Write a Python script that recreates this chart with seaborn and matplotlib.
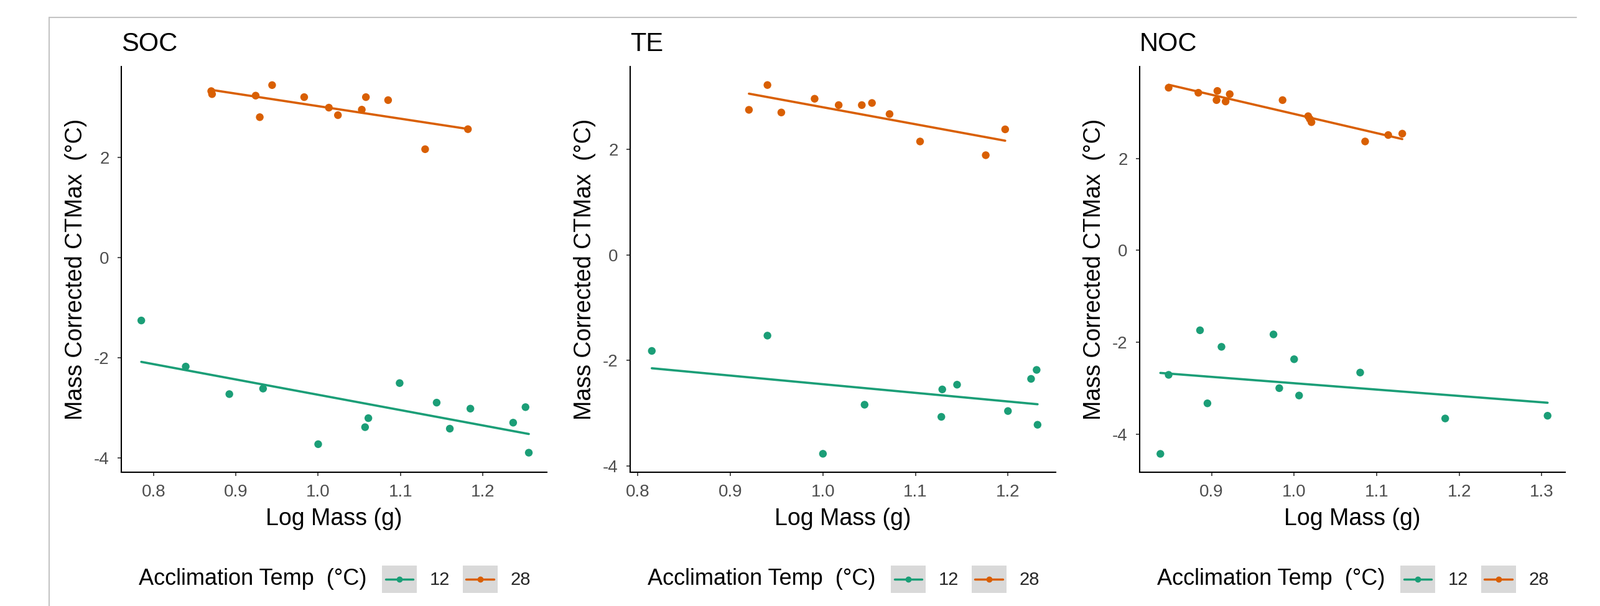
import numpy as np
import pandas as pd
import matplotlib
matplotlib.use("Agg")
import matplotlib.pyplot as plt
import seaborn as sns
from matplotlib.lines import Line2D
from matplotlib.patches import Rectangle
from matplotlib.legend_handler import HandlerBase

# ---------------- data ----------------
panels = ["SOC", "TE", "NOC"]
temps = ["12", "28"]
colors = {"12": "#1B9E77", "28": "#D95F02"}

SOC_12_x = [0.785, 0.839, 0.892, 0.933, 1.000, 1.057, 1.061, 1.099, 1.144, 1.160, 1.185, 1.237, 1.252, 1.256]
SOC_12_y = [-1.25, -2.17, -2.72, -2.61, -3.72, -3.38, -3.20, -2.50, -2.89, -3.41, -3.01, -3.29, -2.98, -3.89]
SOC_28_x = [0.870, 0.871, 0.924, 0.929, 0.944, 0.983, 1.013, 1.024, 1.053, 1.058, 1.085, 1.130, 1.182]
SOC_28_y = [3.33, 3.27, 3.24, 2.81, 3.45, 3.21, 3.00, 2.85, 2.96, 3.21, 3.15, 2.17, 2.57]

TE_12_x = [0.815, 0.940, 1.000, 1.045, 1.128, 1.129, 1.145, 1.200, 1.225, 1.231, 1.232]
TE_12_y = [-1.82, -1.53, -3.77, -2.84, -3.07, -2.55, -2.46, -2.96, -2.35, -2.18, -3.22]
TE_28_x = [0.920, 0.940, 0.955, 0.991, 1.017, 1.042, 1.053, 1.072, 1.105, 1.176, 1.197]
TE_28_y = [2.75, 3.22, 2.70, 2.96, 2.84, 2.84, 2.88, 2.67, 2.15, 1.89, 2.38]

NOC_12_x = [0.838, 0.848, 0.886, 0.895, 0.912, 0.975, 0.982, 1.000, 1.006, 1.080, 1.183, 1.307]
NOC_12_y = [-4.43, -2.71, -1.74, -3.33, -2.10, -1.83, -3.00, -2.37, -3.16, -2.66, -3.66, -3.60]
NOC_28_x = [0.848, 0.884, 0.907, 0.906, 0.917, 0.922, 0.986, 1.017, 1.021, 1.019, 1.086, 1.114, 1.131]
NOC_28_y = [3.54, 3.43, 3.47, 3.27, 3.24, 3.40, 3.27, 2.92, 2.79, 2.86, 2.37, 2.51, 2.54]

series = {
    "SOC": {"12": (SOC_12_x, SOC_12_y), "28": (SOC_28_x, SOC_28_y)},
    "TE": {"12": (TE_12_x, TE_12_y), "28": (TE_28_x, TE_28_y)},
    "NOC": {"12": (NOC_12_x, NOC_12_y), "28": (NOC_28_x, NOC_28_y)},
}

x_ticks = {"SOC": [0.8, 0.9, 1.0, 1.1, 1.2], "TE": [0.8, 0.9, 1.0, 1.1, 1.2], "NOC": [0.9, 1.0, 1.1, 1.2, 1.3]}
y_ticks = [-4, -2, 0, 2]
x_lims = {"SOC": (0.7607, 1.2779), "TE": (0.7916, 1.2516), "NOC": (0.8129, 1.3283)}
y_lims = {"SOC": (-4.28, 3.82), "TE": (-4.12, 3.57), "NOC": (-4.83, 4.00)}

xlabel = "Log Mass (g)"
ylabel = "Mass Corrected CTMax  (\u00b0C)"
legend_title = "Acclimation Temp  (\u00b0C)"

# ---------------- style ----------------
sns.set_style("ticks")
plt.rcParams["font.family"] = ["Liberation Sans", "DejaVu Sans"]

W, H = 2572, 974
fig = plt.figure(figsize=(W / 100, H / 100), dpi=100)
fig.patch.set_facecolor("white")

ax_left_px = [195, 1013, 1832]
ax_w_px = 684
ax_top_px, ax_bot_px = 107, 759


class KeyHandler(HandlerBase):
    def create_artists(self, legend, orig_handle, xdescent, ydescent, width, height, fontsize, trans):
        c = orig_handle.get_color()
        r = Rectangle((-xdescent, -ydescent), width, height, facecolor="#D9D9D9",
                      edgecolor="none", transform=trans)
        yc = -ydescent + height / 2
        ln = Line2D([-xdescent + 0.1 * width, -xdescent + 0.9 * width], [yc, yc],
                    color=c, lw=2.5, transform=trans)
        mk = Line2D([-xdescent + width / 2], [yc], marker="o", ms=6, color=c, lw=0,
                    transform=trans)
        return [r, ln, mk]


for i, name in enumerate(panels):
    left = ax_left_px[i] / W
    bottom = 1 - ax_bot_px / H
    ax = fig.add_axes([left, bottom, ax_w_px / W, (ax_bot_px - ax_top_px) / H])

    rows = []
    for t in temps:
        xs, ys = series[name][t]
        for xv, yv in zip(xs, ys):
            rows.append({"x": xv, "y": yv, "Temp": t})
    df = pd.DataFrame(rows)

    sns.scatterplot(data=df, x="x", y="y", hue="Temp", palette=colors, hue_order=temps,
                    s=80, edgecolor="none", linewidth=0, legend=False, ax=ax, zorder=2)
    for t in temps:
        sub = df[df["Temp"] == t]
        sns.regplot(data=sub, x="x", y="y", scatter=False, ci=None, color=colors[t],
                    truncate=True, line_kws={"lw": 2.6, "zorder": 3}, ax=ax)

    ax.set_xlim(*x_lims[name])
    ax.set_ylim(*y_lims[name])
    ax.set_xticks(x_ticks[name])
    ax.set_xticklabels([f"{v:.1f}" for v in x_ticks[name]])
    ax.set_yticks(y_ticks)
    ax.set_yticklabels([str(v) for v in y_ticks])

    for sp in ["top", "right"]:
        ax.spines[sp].set_visible(False)
    for sp in ["left", "bottom"]:
        ax.spines[sp].set_color("black")
        ax.spines[sp].set_linewidth(1.5)

    ax.tick_params(axis="both", direction="out", length=4, width=1.2, color="#333333",
                   labelsize=20, labelcolor="#4D4D4D")
    ax.tick_params(axis="x", pad=10)
    ax.tick_params(axis="y", pad=10)

    ax.set_xlabel(xlabel, fontsize=27, color="black")
    ax.set_ylabel(ylabel, fontsize=27, color="black")
    ax.xaxis.set_label_coords(0.5, -0.088)
    ax.yaxis.set_label_coords(-0.080, 0.5)

    ax.set_title(name, loc="left", fontsize=30, pad=18, color="black")

    # legend title + keys
    off = ax_left_px[i] - ax_left_px[0]
    fig.text((223 + off) / W, 1 - 931 / H, legend_title, fontsize=26, va="center",
             ha="left", color="black")
    handles = [Line2D([], [], color=colors[t]) for t in temps]
    fig.legend(handles, temps, loc="center left",
               bbox_to_anchor=((614 + off) / W, 1 - 931 / H),
               ncol=2, frameon=False, borderpad=0, borderaxespad=0,
               handlelength=1.92, handleheight=1.92, handletextpad=0.72,
               columnspacing=0.69, fontsize=21,
               handler_map={Line2D: KeyHandler()})

# outer frame lines (screenshot border)
fig.add_artist(Line2D([79 / W, 2534 / W], [1 - 28 / H, 1 - 28 / H],
                      transform=fig.transFigure, color="#C4C4C4", lw=1.5))
fig.add_artist(Line2D([79 / W, 79 / W], [1 - 28 / H, 0],
                      transform=fig.transFigure, color="#C4C4C4", lw=1.5))

fig.savefig("out.png", dpi=100, facecolor="white")
